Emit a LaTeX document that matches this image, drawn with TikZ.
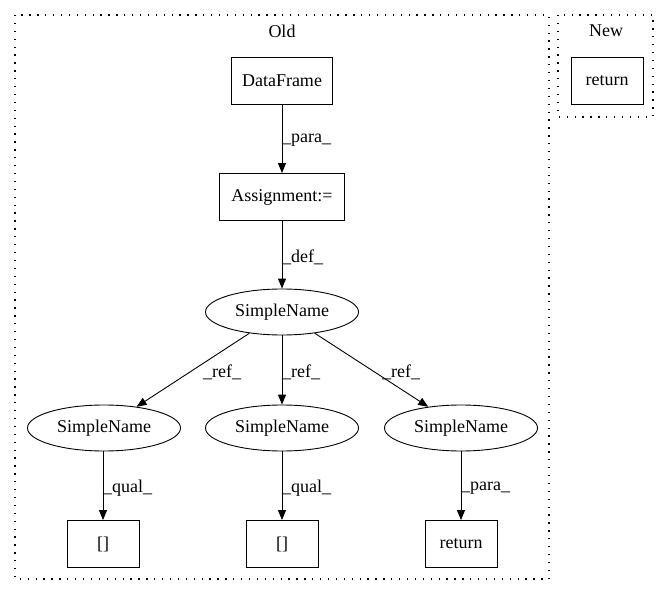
\documentclass[tikz,border=0pt]{standalone}
\usepackage{fontspec}
\setmainfont{Liberation Serif}
\usetikzlibrary{arrows.meta,shapes.geometric}
\begin{document}
\begin{tikzpicture}[x=1pt,y=-1pt,
  every node/.style={font=\fontsize{18}{21}\selectfont},
  boxnode/.style={draw,line width=0.9pt,rectangle,inner sep=0pt,minimum height=47pt},
  ellnode/.style={draw,line width=0.9pt,ellipse,inner sep=0pt,minimum width=153pt,minimum height=46pt},
  clusterbox/.style={line width=1.1pt,dash pattern=on 1.3pt off 6.6pt},
  edge/.style={line width=0.9pt,-{Triangle[length=10pt,width=8pt]}},
  lbl/.style={anchor=west,inner sep=0pt}]
\useasboundingbox (0,0) rectangle (669,596);
\draw[clusterbox] (15,15) rectangle (549,579);
\draw[clusterbox] (558,15) rectangle (653,117);
\node (oldlbl) at (282,31) {Old};
\node (newlbl) at (606,31) {New};
\node[boxnode,minimum width=101pt] (df) at (282,81) {DataFrame};
\node[boxnode,minimum width=125pt] (as) at (282,197) {Assignment:=};
\node[ellnode] (sn) at (282,312) {SimpleName};
\node[ellnode] (sl) at (104,428) {SimpleName};
\node[ellnode] (sm) at (282,428) {SimpleName};
\node[ellnode] (sr) at (461,428) {SimpleName};
\node[boxnode,minimum width=72pt] (bl) at (103,544) {[]};
\node[boxnode,minimum width=72pt] (bm) at (282,544) {[]};
\node[boxnode,minimum width=72pt] (br) at (461,544) {return};
\node[boxnode,minimum width=72pt] (nr) at (607,81) {return};
\draw[edge] (df) -- (as);
\draw[edge] (as) -- (sn);
\draw[edge] (sn) -- (sl);
\draw[edge] (sn) -- (sm);
\draw[edge] (sn) -- (sr);
\draw[edge] (sl.south -| bl.north) -- (bl);
\draw[edge] (sm) -- (bm);
\draw[edge] (sr) -- (br);
\node[lbl] (l1) at (282,140) {\_para\_};
\node[lbl] (l2) at (282,257) {\_def\_};
\node[lbl] (l3) at (203,372) {\_ref\_};
\node[lbl] (l4) at (282,372) {\_ref\_};
\node[lbl] (l5) at (382,372) {\_ref\_};
\node[lbl] (l6) at (103,488) {\_qual\_};
\node[lbl] (l7) at (282,488) {\_qual\_};
\node[lbl] (l8) at (461,488) {\_para\_};
\end{tikzpicture}
\end{document}
